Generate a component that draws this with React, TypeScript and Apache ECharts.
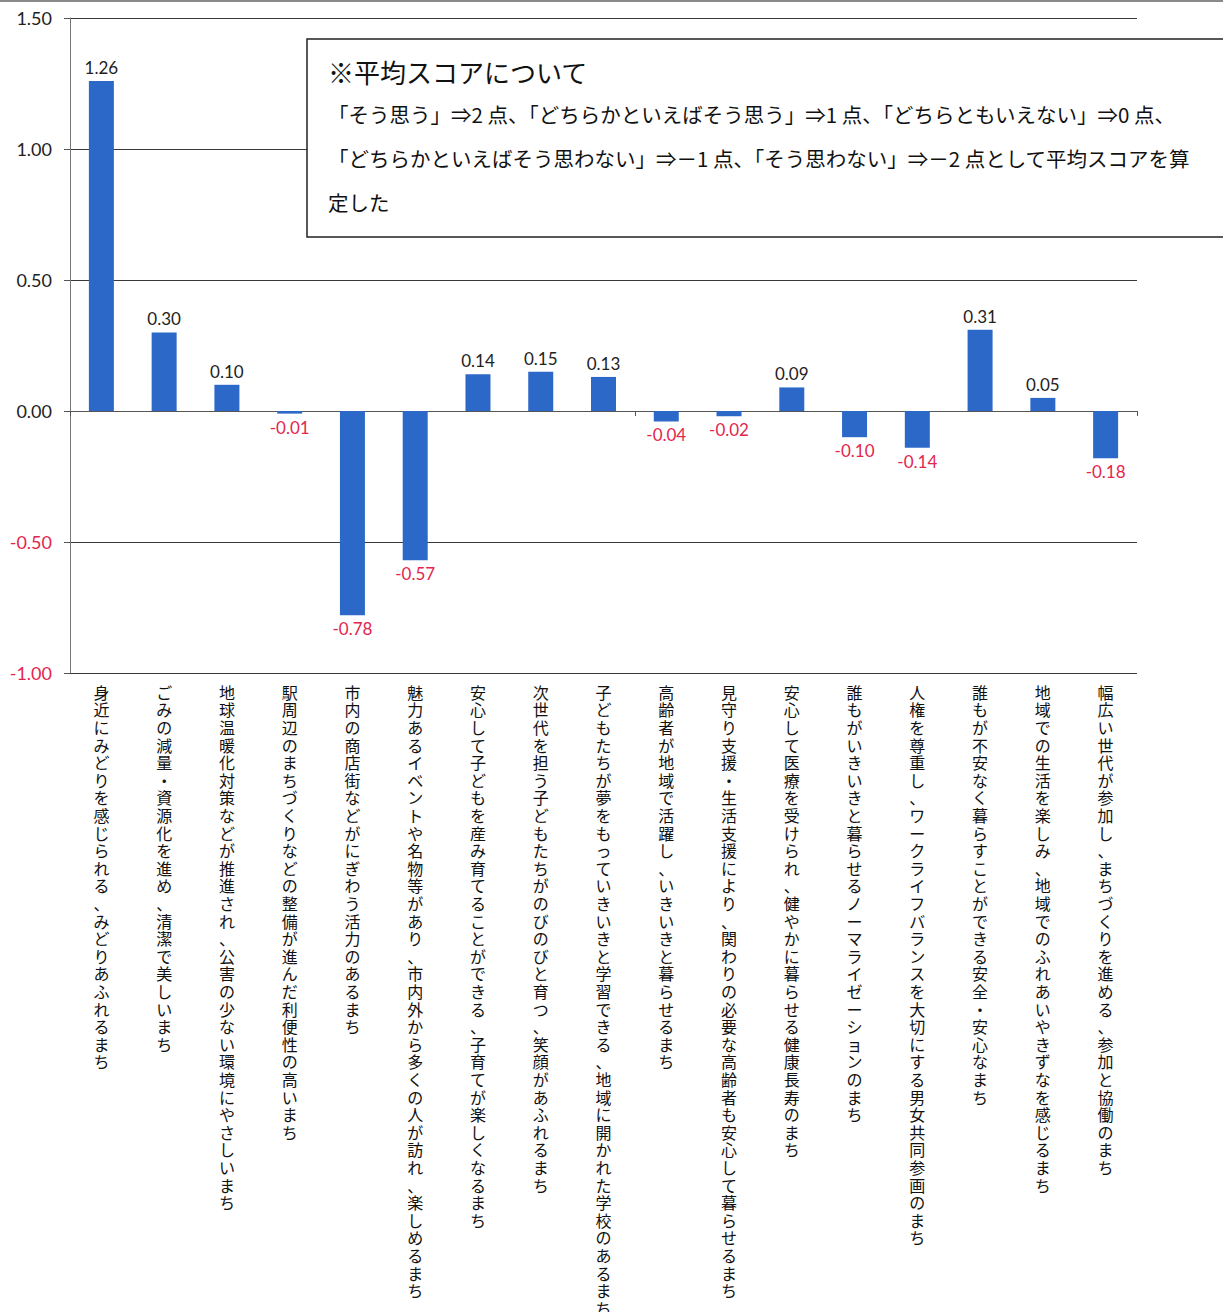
import React, { useEffect, useRef } from "react";
import * as echarts from "echarts";

const categories = [
  "身近にみどりを感じられる、みどりあふれるまち",
  "ごみの減量・資源化を進め、清潔で美しいまち",
  "地球温暖化対策などが推進され、公害の少ない環境にやさしいまち",
  "駅周辺のまちづくりなどの整備が進んだ利便性の高いまち",
  "市内の商店街などがにぎわう活力のあるまち",
  "魅力あるイベントや名物等があり、市内外から多くの人が訪れ、楽しめるまち",
  "安心して子どもを産み育てることができる、子育てが楽しくなるまち",
  "次世代を担う子どもたちがのびのびと育つ、笑顔があふれるまち",
  "子どもたちが夢をもっていきいきと学習できる、地域に開かれた学校のあるまち",
  "高齢者が地域で活躍し、いきいきと暮らせるまち",
  "見守り支援・生活支援により、関わりの必要な高齢者も安心して暮らせるまち",
  "安心して医療を受けられ、健やかに暮らせる健康長寿のまち",
  "誰もがいきいきと暮らせるノーマライゼーションのまち",
  "人権を尊重し、ワークライフバランスを大切にする男女共同参画のまち",
  "誰もが不安なく暮らすことができる安全・安心なまち",
  "地域での生活を楽しみ、地域でのふれあいやきずなを感じるまち",
  "幅広い世代が参加し、まちづくりを進める、参加と協働のまち",
];

const values = [1.26, 0.3, 0.1, -0.01, -0.78, -0.57, 0.14, 0.15, 0.13, -0.04, -0.02, 0.09, -0.1, -0.14, 0.31, 0.05, -0.18];

const noteTitle = "※平均スコアについて";
const noteLines = [
  "「そう思う」⇒2 点、「どちらかといえばそう思う」⇒1 点、「どちらともいえない」⇒0 点、",
  "「どちらかといえばそう思わない」⇒－1 点、「そう思わない」⇒－2 点として平均スコアを算",
  "定した",
];

const NEG = "#e3264d";
const POS = "#222222";
const BAR = "#2c68c8";
const JP = "'Noto Sans CJK JP', sans-serif";
const NUM = "Lato, 'Noto Sans', sans-serif";

export default function App() {
  const ref = useRef<HTMLDivElement>(null);
  useEffect(() => {
    const chart = echarts.init(ref.current!, null, { renderer: "svg" });
    chart.setOption({
      animation: false,
      backgroundColor: "#ffffff",
      grid: {
        left: 70,
        right: 86,
        top: 18,
        bottom: 639,
        containLabel: false,
        outerBoundsMode: "none",
      },
      xAxis: [
        {
          type: "category",
          data: categories,
          position: "bottom",
          axisLine: { show: false, onZero: false },
          axisTick: { show: false },
          splitLine: { show: false },
          axisLabel: {
            interval: 0,
            margin: 10,
            formatter: (v: string) => v.split("").join("\n"),
            fontFamily: JP,
            fontSize: 16,
            lineHeight: 17.6,
            color: "#111",
            verticalAlign: "top",
          },
        },
        {
          type: "category",
          data: categories,
          position: "top",
          axisLine: { show: true, onZero: true, lineStyle: { color: "#555", width: 1 } },
          axisTick: { show: true, inside: true, length: 5, lineStyle: { color: "#555" } },
          axisLabel: { show: false },
          splitLine: { show: false },
        },
      ],
      yAxis: {
        type: "value",
        min: -1,
        max: 1.5,
        interval: 0.5,
        axisLine: { show: true, lineStyle: { color: "#777" } },
        axisTick: { show: true, length: 6, lineStyle: { color: "#555" } },
        axisLabel: {
          formatter: (v: number) => v.toFixed(2),
          color: (v: any) => (Number(v) < 0 ? NEG : POS),
          fontFamily: NUM,
          fontSize: 18,
          margin: 18,
        },
        splitLine: { lineStyle: { color: "#3a3a3a", width: 1 } },
      },
      series: [
        {
          type: "bar",
          xAxisIndex: 0,
          barWidth: 25,
          itemStyle: { color: BAR },
          label: {
            show: true,
            formatter: (p: any) => Number(p.value).toFixed(2),
            fontFamily: NUM,
            fontSize: 17,
            distance: 5,
          },
          data: values.map((v) => ({
            value: v,
            label: { position: v < 0 ? "bottom" : "top", color: v < 0 ? NEG : POS },
          })),
        },
      ],
      graphic: [
        { type: "rect", shape: { x: 0, y: 0, width: 1223, height: 2 }, style: { fill: "#8a8a8a" }, z: 100 },
        {
          type: "rect",
          shape: { x: 307, y: 39, width: 1000, height: 198 },
          style: { fill: "#ffffff", stroke: "#222", lineWidth: 1.5 },
          z: 100,
        },
        {
          type: "text",
          x: 328,
          y: 71,
          style: { text: noteTitle, fontFamily: JP, fontSize: 26, fill: "#111", verticalAlign: "middle" },
          z: 101,
        },
        ...noteLines.map((t, i) => ({
          type: "text",
          x: 328,
          y: 114 + i * 44,
          style: { text: t, fontFamily: JP, fontSize: 20.5, fill: "#111", verticalAlign: "middle" },
          z: 101,
        })),
      ],
    });
    return () => chart.dispose();
  }, []);
  return (
    <div
      ref={ref}
      style={{ position: "absolute", left: 0, top: 0, width: 1223, height: 1312, background: "#fff" }}
    />
  );
}
